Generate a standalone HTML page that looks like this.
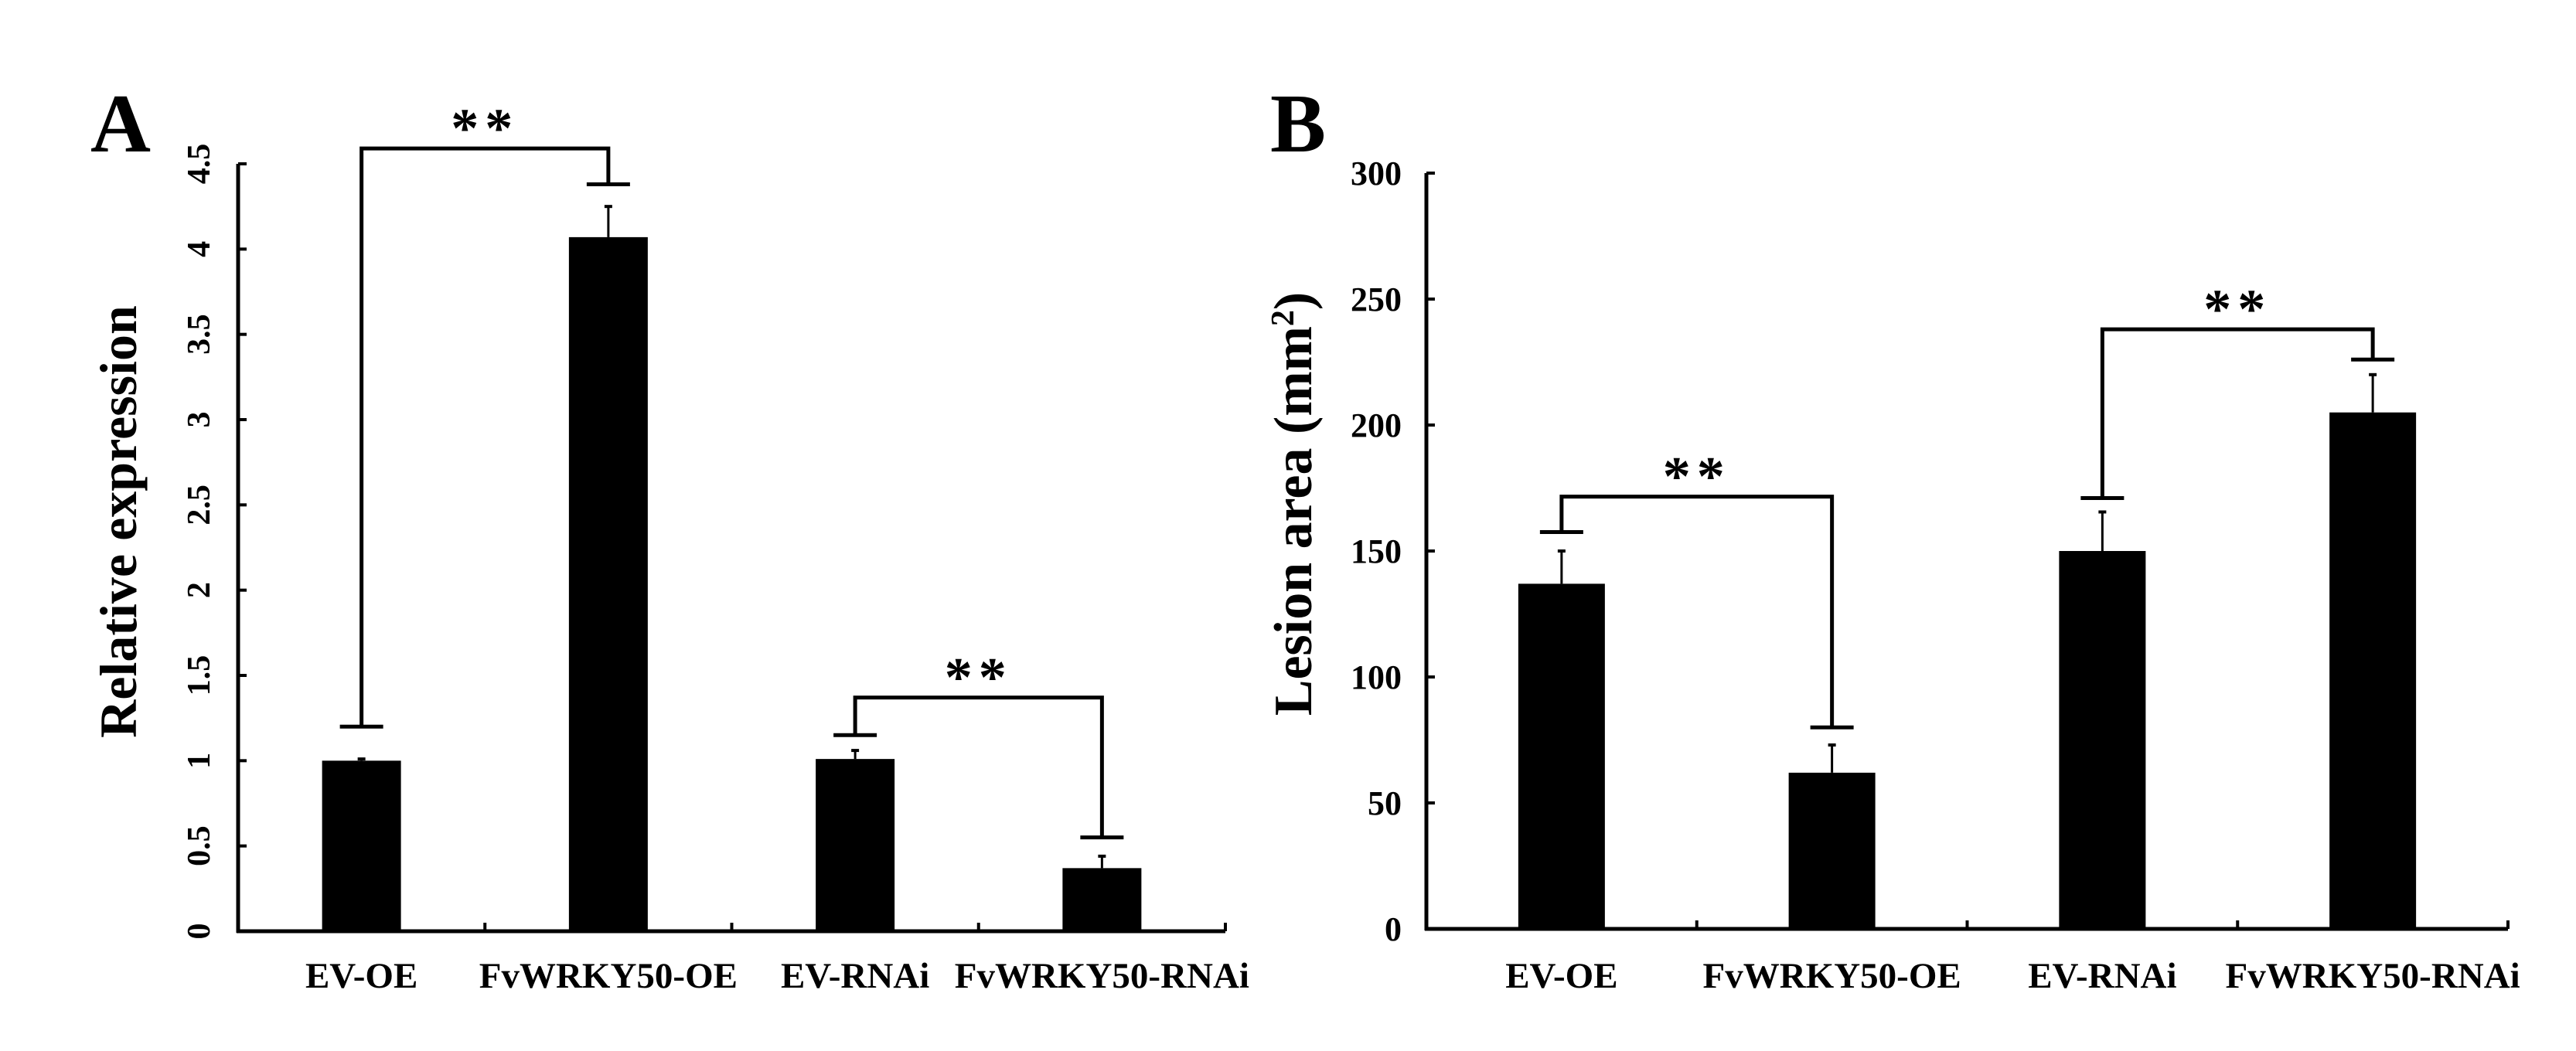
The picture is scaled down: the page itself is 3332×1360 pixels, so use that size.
<!DOCTYPE html>
<html><head><meta charset="utf-8"><style>
html,body{margin:0;padding:0;background:#fff;}
svg{display:block;}
text{font-family:"Liberation Serif",serif;font-weight:bold;fill:#000;}
</style></head><body>
<svg id="fig" width="3332" height="1360" viewBox="0 0 3332 1360" xmlns="http://www.w3.org/2000/svg">
<text x="117" y="196" font-size="108">A</text>
<text x="1643" y="196" font-size="108">B</text>
<g id="chartA"></g>
<g id="chartB"></g>
</svg>
<script>
const categories = ["EV-OE", "FvWRKY50-OE", "EV-RNAi", "FvWRKY50-RNAi"];
const exprValues = [1.0, 4.07, 1.01, 0.37];
const exprErrors = [0.01, 0.18, 0.05, 0.07];
const exprTicks = ["0", "0.5", "1", "1.5", "2", "2.5", "3", "3.5", "4", "4.5"];
const exprTickValues = [0, 0.5, 1, 1.5, 2, 2.5, 3, 3.5, 4, 4.5];
const lesionValues = [137, 62, 150, 205];
const lesionErrors = [13, 11, 15.5, 15];
const lesionTicks = ["0", "50", "100", "150", "200", "250", "300"];
const lesionTickValues = [0, 50, 100, 150, 200, 250, 300];
// significance brackets: [leftIndex, rightIndex, leftCapValue, topValue, rightCapValue]
const exprBrackets = [[0, 1, 1.20, 4.59, 4.38], [2, 3, 1.15, 1.37, 0.55]];
const lesionBrackets = [[0, 1, 157.5, 171.6, 80], [2, 3, 171, 238, 226]];

const NS = "http://www.w3.org/2000/svg";
function mk(parent, tag, attrs, txt) {
  const e = document.createElementNS(NS, tag);
  for (const k in attrs) e.setAttribute(k, attrs[k]);
  if (txt !== undefined) e.textContent = txt;
  parent.appendChild(e);
  return e;
}

function drawChart(g, cfg) {
  const x0 = cfg.x0, x1 = cfg.x1, yTop = cfg.yTop, yZero = cfg.yZero;
  const yScale = v => yZero - (v / cfg.max) * (yZero - yTop);
  const bandW = (x1 - x0) / categories.length;
  const xCenter = i => x0 + bandW * (i + 0.5);

  let ax = mk(g, "line", {x1: x0, y1: yTop, x2: x0, y2: yZero + 2, stroke: "#000", "stroke-width": 5});
  
  
  let bx = mk(g, "line", {x1: x0 - 2, y1: yZero, x2: x1, y2: yZero, stroke: "#000", "stroke-width": 5});
  
  
  for (let i = 1; i <= categories.length; i++) {
    const tx = x0 + bandW * i;
    let t = mk(g, "line", {x1: tx, y1: yZero, x2: tx, y2: yZero - 11, stroke: "#000", "stroke-width": 4});
    
    
  }
  cfg.tickValues.forEach((v, i) => {
    const y = yScale(v);
    let t = mk(g, "line", {x1: x0, y1: y, x2: x0 + 11, y2: y, stroke: "#000", "stroke-width": 4});
    
    
    let lbl;
    if (cfg.rotatedTicks) {
      lbl = mk(g, "text", {x: 0, y: 0, "font-size": 42, "text-anchor": "middle",
        transform: "translate(" + (x0 - 37) + "," + y + ") rotate(-90)"}, cfg.tickLabels[i]);
    } else {
      lbl = mk(g, "text", {x: x0 - 32, y: y + 15, "font-size": 44, "text-anchor": "end"}, cfg.tickLabels[i]);
    }
    
    
  });
  cfg.values.forEach((v, i) => {
    const cx = xCenter(i);
    const y = yScale(v);
    let r = mk(g, "rect", {x: cx - cfg.barW / 2, y: y, width: cfg.barW, height: yZero - y, fill: "#000"});
    
    
    const ye = yScale(v + cfg.errors[i]);
    let e = mk(g, "line", {x1: cx, y1: y, x2: cx, y2: ye, stroke: "#000", "stroke-width": 3});
    
    
    let c = mk(g, "line", {x1: cx - 5, y1: ye, x2: cx + 5, y2: ye, stroke: "#000", "stroke-width": 4});
    
    
    let xl = mk(g, "text", {x: cx, y: 1278, "font-size": 47, "text-anchor": "middle"}, categories[i]);
    
    
  });
  cfg.brackets.forEach(b => {
    const lx = xCenter(b[0]), rx = xCenter(b[1]);
    const yl = yScale(b[2]), yt = yScale(b[3]), yr = yScale(b[4]);
    let p = mk(g, "polyline", {points: lx + "," + yl + " " + lx + "," + yt + " " + rx + "," + yt + " " + rx + "," + yr,
      fill: "none", stroke: "#000", "stroke-width": 5});
    
    
    [[lx, yl], [rx, yr]].forEach(pt => {
      let c = mk(g, "line", {x1: pt[0] - 28, y1: pt[1], x2: pt[0] + 28, y2: pt[1], stroke: "#000", "stroke-width": 5});
      
      
    });
    let s = mk(g, "text", {x: (lx + rx) / 2, y: yt - 2, "font-size": 72, "font-weight": "normal",
      "text-anchor": "middle", "letter-spacing": "8"}, "**");
    
    
  });
  let yt = mk(g, "text", {x: 0, y: 0, "font-size": cfg.titleSize, "text-anchor": "middle",
    transform: "translate(" + cfg.titleX + "," + cfg.titleY + ") rotate(-90)"});
  
  
  yt.textContent = cfg.title;
  if (cfg.sup) {
    mk(yt, "tspan", {"baseline-shift": "super", "font-size": cfg.titleSize * 0.6}, cfg.sup);
    mk(yt, "tspan", {}, ")");
  }
}

drawChart(document.getElementById("chartA"), {
  x0: 308, x1: 1585, yTop: 212, yZero: 1205, max: 4.5, barW: 102,
  values: exprValues, errors: exprErrors, tickValues: exprTickValues, tickLabels: exprTicks,
  rotatedTicks: true, brackets: exprBrackets,
  title: "Relative expression", titleSize: 68, titleX: 176, titleY: 675
});
drawChart(document.getElementById("chartB"), {
  x0: 1845, x1: 3244, yTop: 224, yZero: 1202, max: 300, barW: 112,
  values: lesionValues, errors: lesionErrors, tickValues: lesionTickValues, tickLabels: lesionTicks,
  rotatedTicks: false, brackets: lesionBrackets,
  title: "Lesion area (mm", sup: "2", titleSize: 70, titleX: 1696, titleY: 652
});
</script>
</body></html>
